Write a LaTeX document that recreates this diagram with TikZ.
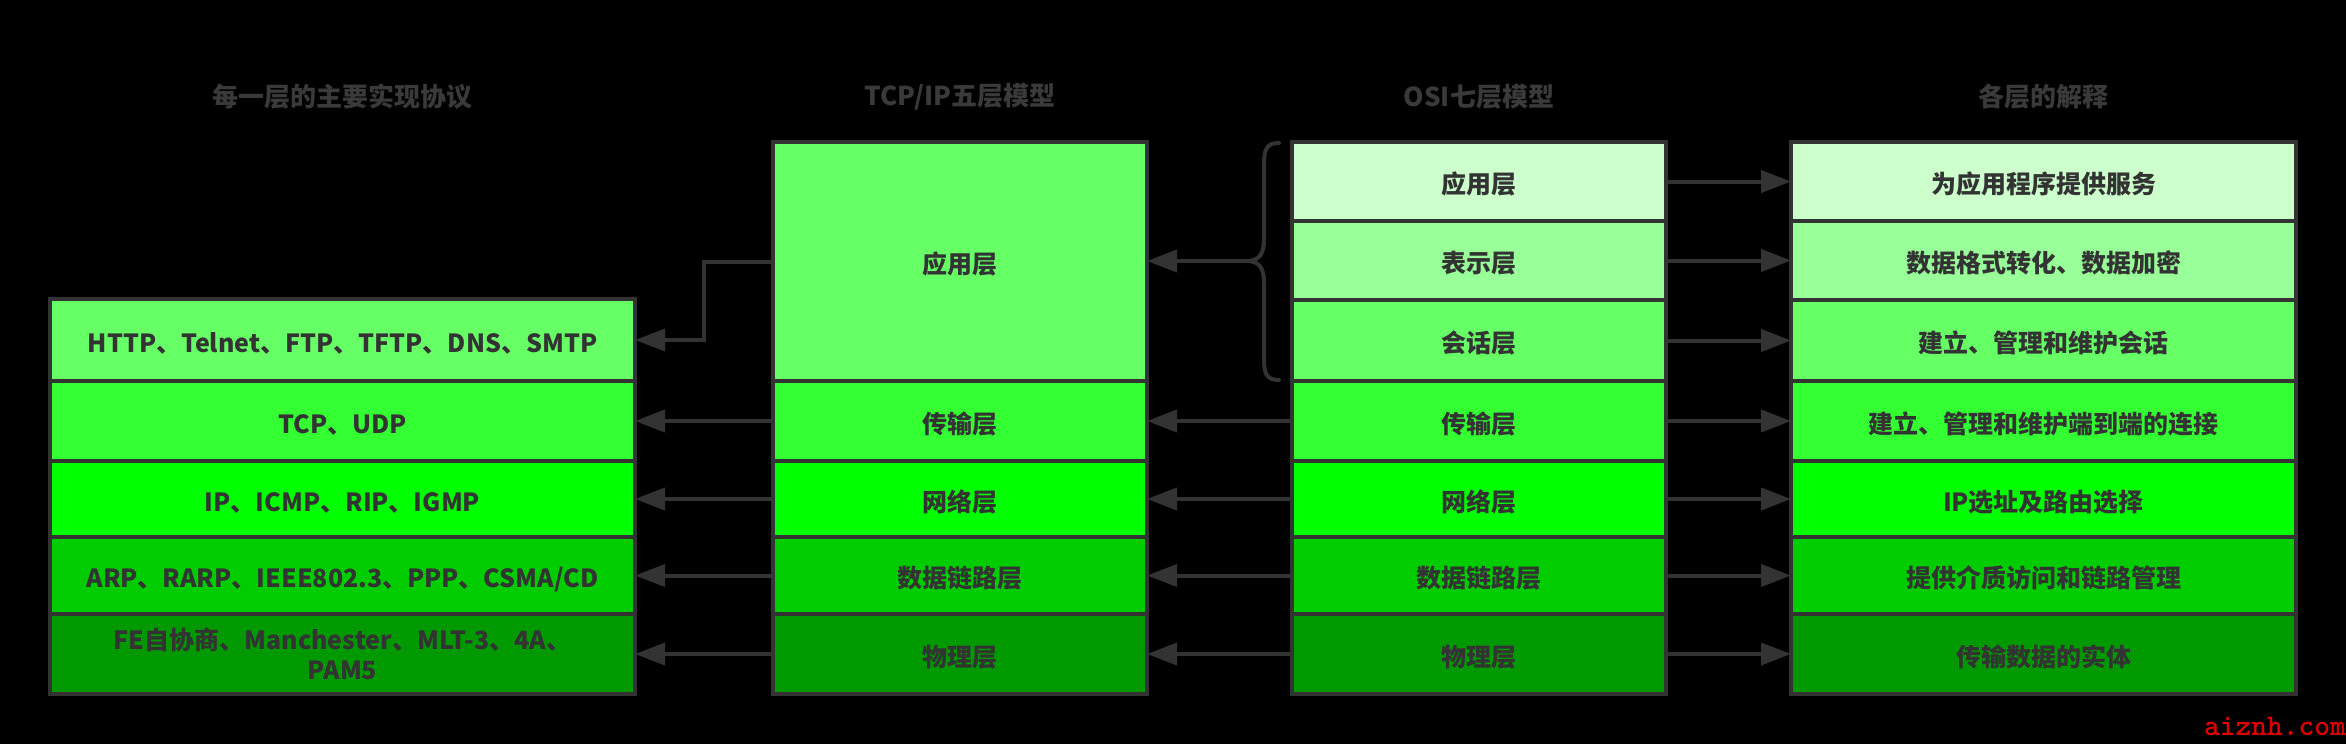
\documentclass[tikz,border=0pt]{standalone}
\usepackage{fontspec}
\setmainfont{Noto Sans CJK SC}
\usetikzlibrary{arrows.meta}
\definecolor{bd}{HTML}{333333}
\definecolor{tx}{HTML}{333333}
\definecolor{ttl}{HTML}{3A3A3A}
\definecolor{ca}{HTML}{CCFFCC}
\definecolor{cb}{HTML}{99FF99}
\definecolor{cc}{HTML}{66FF66}
\definecolor{cd}{HTML}{33FF33}
\definecolor{ce}{HTML}{00FF00}
\definecolor{cf}{HTML}{00CC00}
\definecolor{cg}{HTML}{009900}
\definecolor{wm}{HTML}{E00000}
\begin{document}
\begin{tikzpicture}[x=1pt,y=-1pt,
  layb/.style={draw=bd, line width=4pt, inner sep=0pt, outer sep=0pt, text=tx,
    font=\bfseries\fontsize{25}{30}\selectfont},
  lay/.style={layb, text height=27pt, text depth=3pt},
  lcol/.style={minimum width=585pt},
  tcol/.style={minimum width=374pt},
  ocol/.style={minimum width=374pt},
  rcol/.style={minimum width=505pt},
  ttlnode/.style={text=ttl, font=\bfseries\fontsize{26}{30}\selectfont, inner sep=0pt},
  arr/.style={draw=bd, line width=4pt, -{Triangle[length=30pt,width=22pt]}},
  brc/.style={draw=bd, line width=4pt, line cap=round}
]
\fill[black] (0,0) rectangle (2346,744);
\useasboundingbox (0,0) rectangle (2346,744);

% titles
\node[ttlnode] (t1) at (342.5,97) {每一层的主要实现协议};
\node[ttlnode] (t2) at (960,97) {TCP/IP五层模型};
\node[ttlnode] (t3) at (1479,97) {OSI七层模型};
\node[ttlnode] (t4) at (2043.5,97) {各层的解释};

% left column
\node[lay, lcol, fill=cc, minimum height=82pt] (l1) at (342.5,340) {HTTP、Telnet、FTP、TFTP、DNS、SMTP};
\node[lay, lcol, fill=cd, minimum height=80pt] (l2) at (342.5,421) {TCP、UDP};
\node[lay, lcol, fill=ce, minimum height=76pt] (l3) at (342.5,499) {IP、ICMP、RIP、IGMP};
\node[lay, lcol, fill=cf, minimum height=77pt] (l4) at (342.5,575.5) {ARP、RARP、IEEE802.3、PPP、CSMA/CD};
\node[layb, lcol, fill=cg, minimum height=80pt, align=center] (l5) at (342.5,654) {FE自协商、Manchester、MLT-3、4A、\\PAM5};

% TCP/IP column
\node[lay, tcol, fill=cc, minimum height=239pt] (ta) at (960,261.5) {应用层};
\node[lay, tcol, fill=cd, minimum height=80pt] (tb) at (960,421) {传输层};
\node[lay, tcol, fill=ce, minimum height=76pt] (tc) at (960,499) {网络层};
\node[lay, tcol, fill=cf, minimum height=77pt] (td) at (960,575.5) {数据链路层};
\node[lay, tcol, fill=cg, minimum height=80pt] (te) at (960,654) {物理层};

% OSI column
\node[lay, ocol, fill=ca, minimum height=79pt] (o1) at (1479,181.5) {应用层};
\node[lay, ocol, fill=cb, minimum height=79pt] (o2) at (1479,260.5) {表示层};
\node[lay, ocol, fill=cc, minimum height=81pt] (o3) at (1479,340.5) {会话层};
\node[lay, ocol, fill=cd, minimum height=80pt] (o4) at (1479,421) {传输层};
\node[lay, ocol, fill=ce, minimum height=76pt] (o5) at (1479,499) {网络层};
\node[lay, ocol, fill=cf, minimum height=77pt] (o6) at (1479,575.5) {数据链路层};
\node[lay, ocol, fill=cg, minimum height=80pt] (o7) at (1479,654) {物理层};

% right column
\node[lay, rcol, fill=ca, minimum height=79pt] (r1) at (2043.5,181.5) {为应用程序提供服务};
\node[lay, rcol, fill=cb, minimum height=79pt] (r2) at (2043.5,260.5) {数据格式转化、数据加密};
\node[lay, rcol, fill=cc, minimum height=81pt] (r3) at (2043.5,340.5) {建立、管理和维护会话};
\node[lay, rcol, fill=cd, minimum height=80pt] (r4) at (2043.5,421) {建立、管理和维护端到端的连接};
\node[lay, rcol, fill=ce, minimum height=76pt] (r5) at (2043.5,499) {IP选址及路由选择};
\node[lay, rcol, fill=cf, minimum height=77pt] (r6) at (2043.5,575.5) {提供介质访问和链路管理};
\node[lay, rcol, fill=cg, minimum height=80pt] (r7) at (2043.5,654) {传输数据的实体};

% brace
\draw[brc] (1279,143) .. controls (1266,143) and (1264,150) .. (1264,165)
  -- (1264,240) .. controls (1264,255) and (1258,261) .. (1247,261)
  .. controls (1258,261) and (1264,267) .. (1264,282)
  -- (1264,358) .. controls (1264,373) and (1266,380) .. (1279,380);
\coordinate (bt) at (1247,261);

% arrows
\draw[arr] (bt) -- (bt -| ta.east);
\draw[arr] (ta.west) -- ++(-69,0) |- (l1.east);
\draw[arr] (tb.west) -- (l2.east);
\draw[arr] (tc.west) -- (l3.east);
\draw[arr] (td.west) -- (l4.east);
\draw[arr] (te.west) -- (l5.east);
\draw[arr] (o4.west) -- (tb.east);
\draw[arr] (o5.west) -- (tc.east);
\draw[arr] (o6.west) -- (td.east);
\draw[arr] (o7.west) -- (te.east);
\draw[arr] (o1.east) -- (r1.west);
\draw[arr] (o2.east) -- (r2.west);
\draw[arr] (o3.east) -- (r3.west);
\draw[arr] (o4.east) -- (r4.west);
\draw[arr] (o5.east) -- (r5.west);
\draw[arr] (o6.east) -- (r6.west);
\draw[arr] (o7.east) -- (r7.west);

% watermark
\node[text=wm, font=\ttfamily\bfseries\fontsize{30}{34}\selectfont, inner sep=0pt, anchor=base east] (wmk) at (2346,735) {aiznh.com};
\end{tikzpicture}
\end{document}
